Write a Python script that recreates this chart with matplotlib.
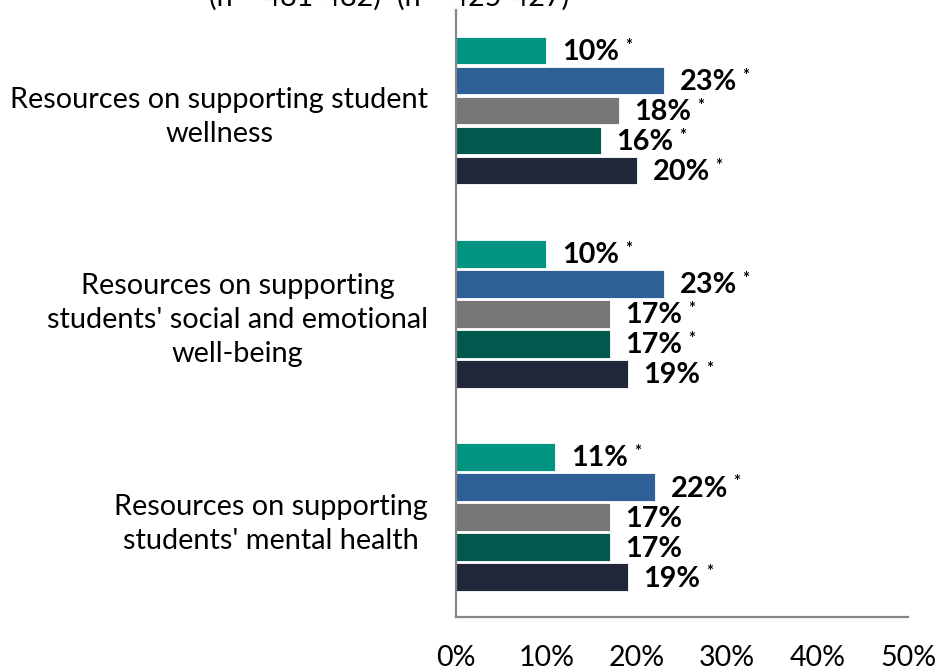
import matplotlib
matplotlib.use("Agg")
import matplotlib.pyplot as plt
import numpy as np

plt.rcParams["font.family"] = ["Lato", "DejaVu Sans"]

categories = [
    "Resources on supporting student\nwellness",
    "Resources on supporting\nstudents' social and emotional\nwell-being",
    "Resources on supporting\nstudents' mental health",
]
series_colors = ["#009482", "#2E5F96", "#777777", "#00594C", "#202839"]
values = [
    [10, 23, 18, 16, 20],
    [10, 23, 17, 17, 19],
    [11, 22, 17, 17, 19],
]
significant = [
    [True, True, True, True, True],
    [True, True, True, True, True],
    [True, True, False, False, True],
]
sample_sizes = ["(n = 481-482)", "(n = 425-427)"]
x_ticks = [0, 10, 20, 30, 40, 50]
x_ticklabels = ["0%", "10%", "20%", "30%", "40%", "50%"]

W, H = 941, 671
fig = plt.figure(figsize=(W / 100, H / 100), dpi=100)
ax = fig.add_axes([456 / W, 1 - 617 / H, (908 - 456) / W, (617 - 10) / H])

group_gap = 6.77
bar_h = 0.92
n_series = len(series_colors)
group_centers = np.arange(len(categories)) * group_gap

for g, (vals, sig) in enumerate(zip(values, significant)):
    for k, (v, s) in enumerate(zip(vals, sig)):
        y = group_centers[g] + (k - (n_series - 1) / 2)
        ax.barh(y, v, height=bar_h, color=series_colors[k],
                edgecolor="white", linewidth=0.6)
        t = ax.text(v + 1.75, y + 0.05, f"{v}%", ha="left", va="center",
                    fontsize=20.8, fontweight="bold", color="black")
        if s:
            ax.annotate("*", xy=(1, 1), xycoords=t, xytext=(4, 1),
                        textcoords="offset points", ha="left", va="top",
                        fontsize=12, fontweight="bold", color="black")

ax.set_xlim(0, 50)
ax.set_ylim(group_centers[-1] + 3.33, group_centers[0] - 3.35)
ax.set_xticks(x_ticks)
ax.set_xticklabels(x_ticklabels, fontsize=20.5)
ax.tick_params(axis="x", length=0, pad=20)
ax.set_yticks(group_centers)
ax.set_yticklabels(categories, fontsize=20.8, multialignment="center",
                   linespacing=1.38)
ax.tick_params(axis="y", length=0, pad=20)

for side in ("top", "right"):
    ax.spines[side].set_visible(False)
for side in ("left", "bottom"):
    ax.spines[side].set_color("#878787")
    ax.spines[side].set_linewidth(1.6)

# sample size notes at the top edge
fig.text(295 / W, 1 - 6 / H, sample_sizes[0], ha="center", va="baseline",
         fontsize=20.5, color="black")
fig.text(483 / W, 1 - 6 / H, sample_sizes[1], ha="center", va="baseline",
         fontsize=20.5, color="black")

fig.savefig("out.png", dpi=100)
